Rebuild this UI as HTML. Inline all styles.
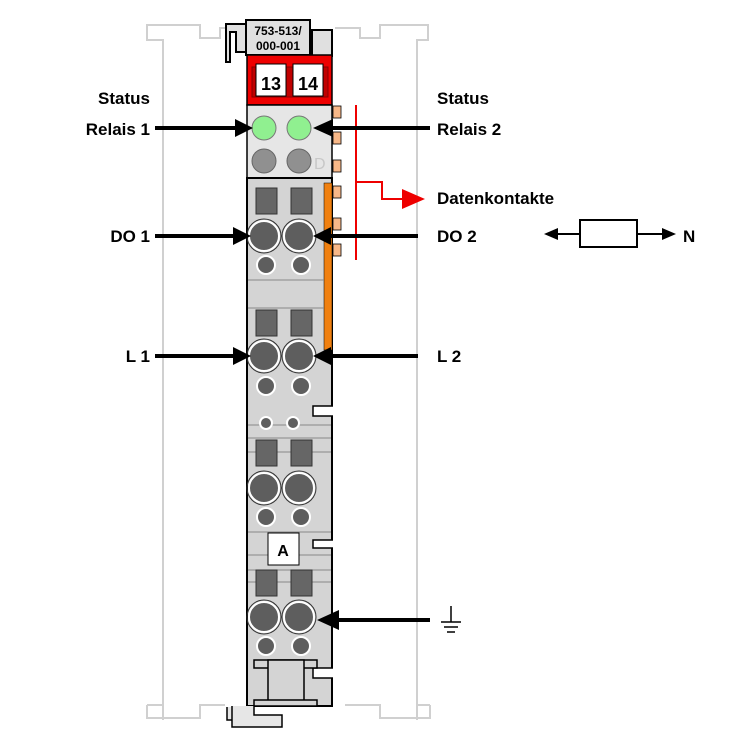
<!DOCTYPE html>
<html><head><meta charset="utf-8"><style>
html,body{margin:0;padding:0;background:#fff}
svg{display:block}
text{font-family:"Liberation Sans",sans-serif;font-weight:bold;fill:#000}
</style></head><body>
<svg width="750" height="750" viewBox="0 0 750 750" xmlns="http://www.w3.org/2000/svg">
<defs>
<marker id="ah" markerWidth="10" markerHeight="10" refX="9" refY="5" orient="auto" markerUnits="userSpaceOnUse"><path d="M0,0 L10,5 L0,10z" fill="#000"/></marker>
</defs>
<!-- rail outline -->
<g fill="none" stroke="#d0d0d0" stroke-width="2">
<path d="M163,720 V40 H147 V25 H200 V38 H220 V28 H240"/>
<path d="M417,720 V40 H428 V25 H380 V38 H360 V28 H335"/>
<path d="M147,705 H163 M147,705 V718 H200 V705 H225"/>
<path d="M430,705 H417 M430,705 V718 H380 V705 H345"/>
</g>
<!-- top tabs -->
<path d="M226,24 H248 V52 H236 V32 H230 V62 H226Z" fill="#e0e0e0" stroke="#000" stroke-width="2"/>
<path d="M312,30 H332 V56 H312Z" fill="#e0e0e0" stroke="#000" stroke-width="2"/>
<rect x="246" y="20" width="64" height="35" fill="#e0e0e0" stroke="#000" stroke-width="2"/>
<text x="278" y="35" font-size="12" text-anchor="middle" font-weight="normal">753-513/</text>
<text x="278" y="50" font-size="12" text-anchor="middle" font-weight="normal">000-001</text>
<!-- red area -->
<rect x="247" y="55" width="85" height="50" fill="#ee0000" stroke="#000" stroke-width="1.5"/>
<rect x="252" y="67" width="76" height="30" fill="#c00000" stroke="#800" stroke-width="1"/>
<rect x="256" y="64" width="30" height="32" fill="#fff" stroke="#000"/>
<rect x="293" y="64" width="30" height="32" fill="#fff" stroke="#000"/>
<text x="271" y="90" font-size="18" text-anchor="middle">13</text>
<text x="308" y="90" font-size="18" text-anchor="middle">14</text>
<!-- LED area -->
<rect x="247" y="105" width="85" height="73" fill="#e6e6e6" stroke="#000" stroke-width="1.5"/>
<circle cx="264" cy="128" r="12" fill="#90f090" stroke="#777"/>
<circle cx="299" cy="128" r="12" fill="#90f090" stroke="#777"/>
<circle cx="264" cy="161" r="12" fill="#909090" stroke="#666"/>
<circle cx="299" cy="161" r="12" fill="#909090" stroke="#666"/>
<text x="314" y="169" font-size="16" fill="#c8c8c8" style="fill:#c8c8c8;font-weight:normal">D</text>
<!-- orange tabs -->
<g fill="#f8b888" stroke="#000" stroke-width="0.8">
<rect x="333" y="106" width="8" height="12"/><rect x="333" y="132" width="8" height="12"/>
<rect x="333" y="160" width="8" height="12"/><rect x="333" y="186" width="8" height="12"/>
<rect x="333" y="218" width="8" height="12"/><rect x="333" y="244" width="8" height="12"/>
</g>
<!-- main body -->
<rect x="247" y="178" width="85" height="528" fill="#d4d4d4" stroke="#000" stroke-width="2"/>
<rect x="324" y="183" width="8" height="167" fill="#f08010" stroke="#000" stroke-width="0.5"/>
<g stroke="#888" stroke-width="1">
<line x1="248" y1="280" x2="324" y2="280"/><line x1="248" y1="308" x2="324" y2="308"/>
<line x1="248" y1="425" x2="331" y2="425"/><line x1="248" y1="438" x2="331" y2="438"/>
<line x1="248" y1="452" x2="331" y2="452"/>
<line x1="248" y1="532" x2="331" y2="532"/><line x1="248" y1="555" x2="331" y2="555"/>
<line x1="248" y1="570" x2="331" y2="570"/><line x1="248" y1="582" x2="331" y2="582"/>
</g>
<!-- notches -->
<g fill="#fff" stroke="#000" stroke-width="1.5">
<path d="M333,406 H313 V416 H333"/>
<path d="M333,540 H313 V548 H333"/>
<path d="M333,668 H313 V678 H333"/>
</g>
<!-- components -->
<g fill="#666" stroke="#333">
<rect x="256" y="188" width="21" height="26"/><rect x="291" y="188" width="21" height="26"/>
<rect x="256" y="310" width="21" height="26"/><rect x="291" y="310" width="21" height="26"/>
<rect x="256" y="440" width="21" height="26"/><rect x="291" y="440" width="21" height="26"/>
<rect x="256" y="570" width="21" height="26"/><rect x="291" y="570" width="21" height="26"/>
</g>
<g fill="#5e5e5e" stroke="#fff" stroke-width="2">
<circle cx="264" cy="236" r="15"/><circle cx="299" cy="236" r="15"/>
<circle cx="266" cy="265" r="9"/><circle cx="301" cy="265" r="9"/>
<circle cx="264" cy="356" r="15"/><circle cx="299" cy="356" r="15"/>
<circle cx="266" cy="386" r="9"/><circle cx="301" cy="386" r="9"/>
<circle cx="266" cy="423" r="6"/><circle cx="293" cy="423" r="6"/>
<circle cx="264" cy="488" r="15"/><circle cx="299" cy="488" r="15"/>
<circle cx="266" cy="517" r="9"/><circle cx="301" cy="517" r="9"/>
<circle cx="264" cy="617" r="15"/><circle cx="299" cy="617" r="15"/>
<circle cx="266" cy="646" r="9"/><circle cx="301" cy="646" r="9"/>
</g>
<g fill="none" stroke="#333" stroke-width="1">
<circle cx="264" cy="236" r="17"/><circle cx="299" cy="236" r="17"/>
<circle cx="264" cy="356" r="17"/><circle cx="299" cy="356" r="17"/>
<circle cx="264" cy="488" r="17"/><circle cx="299" cy="488" r="17"/>
<circle cx="264" cy="617" r="17"/><circle cx="299" cy="617" r="17"/>
</g>
<rect x="268" y="533" width="31" height="32" fill="#fff" stroke="#000"/>
<text x="283" y="556" font-size="16" text-anchor="middle">A</text>
<!-- bottom connector -->
<rect x="254" y="660" width="63" height="8" fill="#d4d4d4" stroke="#000" stroke-width="1.5"/>
<rect x="268" y="660" width="36" height="46" fill="#d4d4d4" stroke="#000" stroke-width="1.5"/>
<rect x="254" y="700" width="63" height="6" fill="#d4d4d4" stroke="#000" stroke-width="1.5"/>
<path d="M227,707 V720 H247 V707" fill="#e6e6e6" stroke="#000" stroke-width="1.5"/>
<path d="M254,706 V715 H282 V727 H232 V706" fill="#e6e6e6" stroke="#000" stroke-width="1.5"/>
<!-- red datenkontakte -->
<g stroke="#ee0000" stroke-width="2" fill="none">
<line x1="356" y1="105" x2="356" y2="260"/>
<path d="M356,182 H382 V199 H405"/>
</g>
<path d="M402,189 L425,199 L402,209Z" fill="#ee0000"/>
<!-- arrows -->
<g stroke="#000" stroke-width="4" fill="none">
<line x1="155" y1="128" x2="238" y2="128"/>
<line x1="430" y1="128" x2="330" y2="128"/>
<line x1="155" y1="236" x2="236" y2="236"/>
<line x1="418" y1="236" x2="328" y2="236"/>
<line x1="155" y1="356" x2="236" y2="356"/>
<line x1="418" y1="356" x2="328" y2="356"/>
<line x1="430" y1="620" x2="336" y2="620"/>
</g>
<g fill="#000">
<path d="M253,128 L235,119 L235,137Z"/>
<path d="M313,128 L333,119 L333,137Z"/>
<path d="M251,236 L233,227 L233,245Z"/>
<path d="M313,236 L331,227 L331,245Z"/>
<path d="M251,356 L233,347 L233,365Z"/>
<path d="M313,356 L331,347 L331,365Z"/>
<path d="M317,620 L339,610 L339,630Z"/>
</g>
<!-- labels -->
<text x="150" y="104" font-size="17" text-anchor="end">Status</text>
<text x="150" y="135" font-size="17" text-anchor="end">Relais 1</text>
<text x="437" y="104" font-size="17">Status</text>
<text x="437" y="135" font-size="17">Relais 2</text>
<text x="437" y="204" font-size="17">Datenkontakte</text>
<text x="150" y="242" font-size="17" text-anchor="end">DO 1</text>
<text x="437" y="242" font-size="17">DO 2</text>
<text x="150" y="362" font-size="17" text-anchor="end">L 1</text>
<text x="437" y="362" font-size="17">L 2</text>
<text x="683" y="242" font-size="17">N</text>
<!-- resistor -->
<rect x="580" y="220" width="57" height="27" fill="#fff" stroke="#000" stroke-width="2"/>
<line x1="556" y1="234" x2="580" y2="234" stroke="#000" stroke-width="2"/>
<line x1="637" y1="234" x2="664" y2="234" stroke="#000" stroke-width="2"/>
<path d="M544,234 L558,228 L558,240Z" fill="#000"/>
<path d="M676,234 L662,228 L662,240Z" fill="#000"/>
<!-- ground -->
<g stroke="#000" stroke-width="1.5">
<line x1="451" y1="606" x2="451" y2="622"/>
<line x1="441" y1="622" x2="461" y2="622"/>
<line x1="444" y1="627" x2="458" y2="627"/>
<line x1="447" y1="632" x2="455" y2="632"/>
</g>
</svg>
</body></html>
